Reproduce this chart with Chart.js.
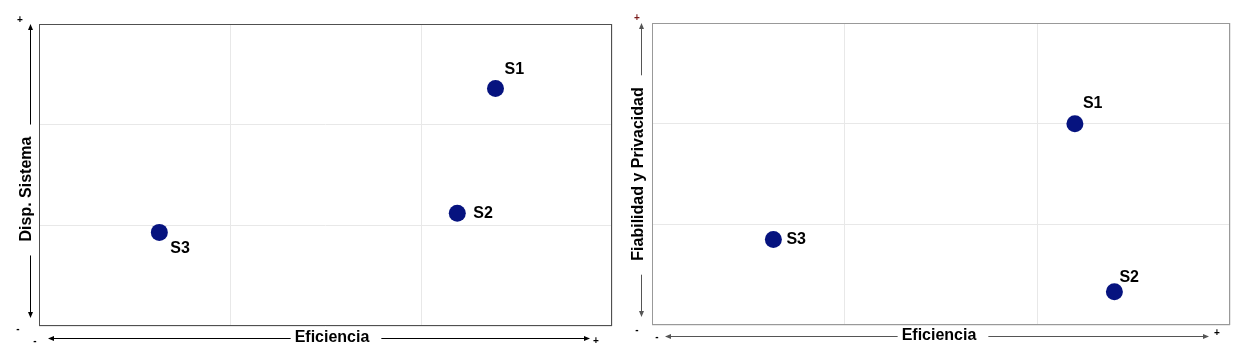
<!DOCTYPE html>
<html>
<head>
<meta charset="utf-8">
<script src="https://cdn.jsdelivr.net/npm/chart.js@4.4.1/dist/chart.umd.min.js"></script>
<style>
  html, body { margin: 0; padding: 0; background: #fff; }
  #wrap { position: relative; width: 1246px; height: 362px; }
  canvas { position: absolute; top: 0; }
</style>
</head>
<body>
<div id="wrap">
  <canvas id="chartLeft" width="623" height="362" style="left:0"></canvas>
  <canvas id="chartRight" width="623" height="362" style="left:623px"></canvas>
</div>
<script>
// series names
const systems = ['S1', 'S2', 'S3'];

// left chart: Eficiencia vs Disp. Sistema (axis 0..3)
const leftEficiencia = [2.39, 2.19, 0.63];
const leftDisponibilidad = [2.36, 1.12, 0.93];

// right chart: Eficiencia vs Fiabilidad y Privacidad
const rightEficiencia = [2.195, 2.40, 0.63];
const rightFiabilidad = [2.0, 0.33, 0.85];

const xTitle = 'Eficiencia';
const leftYTitle = 'Disp. Sistema';
const rightYTitle = 'Fiabilidad y Privacidad';

const pointColor = '#06137f';
const FONT = '"Liberation Sans", Arial, sans-serif';

function toPoints(xs, ys) {
    return xs.map((x, i) => ({ x: x, y: ys[i] }));
}

function arrowHead(ctx, x, y, dir) {
    // dir: 'up', 'down', 'left', 'right'
    ctx.beginPath();
    if (dir === 'up') { ctx.moveTo(x, y); ctx.lineTo(x - 2.5, y + 6); ctx.lineTo(x + 2.5, y + 6); }
    if (dir === 'down') { ctx.moveTo(x, y); ctx.lineTo(x - 2.5, y - 6); ctx.lineTo(x + 2.5, y - 6); }
    if (dir === 'left') { ctx.moveTo(x, y); ctx.lineTo(x + 6, y - 2.5); ctx.lineTo(x + 6, y + 2.5); }
    if (dir === 'right') { ctx.moveTo(x, y); ctx.lineTo(x - 6, y - 2.5); ctx.lineTo(x - 6, y + 2.5); }
    ctx.closePath();
    ctx.fill();
}

function line(ctx, x1, y1, x2, y2) {
    ctx.beginPath();
    ctx.moveTo(x1, y1);
    ctx.lineTo(x2, y2);
    ctx.stroke();
}

// draws frame, axis arrows, axis titles and point labels
const decorPlugin = {
    id: 'decor',
    afterDraw(chart, args, opts) {
        const ctx = chart.ctx;
        const a = chart.chartArea;
        ctx.save();

        // plot frame
        ctx.strokeStyle = opts.frameColor;
        ctx.lineWidth = 1;
        ctx.strokeRect(a.left + 0.5, a.top + 0.5, a.right - a.left - 1, a.bottom - a.top - 1);

        ctx.strokeStyle = opts.arrowColor;
        ctx.fillStyle = opts.arrowColor;
        ctx.font = 'bold 16px ' + FONT;

        // vertical axis arrow + title
        const yx = opts.yArrowX;
        const yTop = a.top;
        const yBot = a.bottom - 8;
        const yMid = opts.yTitleMid;
        const yW = ctx.measureText(opts.yTitle).width;
        line(ctx, yx + 0.5, yTop + 2, yx + 0.5, yMid - yW / 2 - 12);
        line(ctx, yx + 0.5, yMid + yW / 2 + 14, yx + 0.5, yBot - 2);
        ctx.fillStyle = opts.arrowColor;
        arrowHead(ctx, yx + 0.5, yTop, 'up');
        arrowHead(ctx, yx + 0.5, yBot, 'down');
        ctx.fillStyle = '#000';
        ctx.save();
        ctx.translate(opts.yTitleX, yMid);
        ctx.rotate(-Math.PI / 2);
        ctx.textAlign = 'center';
        ctx.textBaseline = 'middle';
        ctx.fillText(opts.yTitle, 0, 0);
        ctx.restore();

        // horizontal axis arrow + title
        const xy = opts.xArrowY;
        const xMid = opts.xTitleMid;
        const xW = ctx.measureText(xTitle).width;
        ctx.fillStyle = opts.arrowColor;
        line(ctx, opts.xArrowLeft + 2, xy + 0.5, xMid - xW / 2 - 4, xy + 0.5);
        line(ctx, xMid + xW / 2 + 12, xy + 0.5, opts.xArrowRight - 2, xy + 0.5);
        arrowHead(ctx, opts.xArrowLeft, xy + 0.5, 'left');
        arrowHead(ctx, opts.xArrowRight, xy + 0.5, 'right');
        ctx.fillStyle = '#000';
        ctx.textAlign = 'center';
        ctx.textBaseline = 'middle';
        ctx.fillText(xTitle, xMid, xy);

        // plus / minus signs
        ctx.font = 'bold 10px ' + FONT;
        ctx.fillStyle = opts.plusColor;
        ctx.fillText('+', opts.yPlus[0], opts.yPlus[1]);
        ctx.fillStyle = '#000';
        ctx.fillText('-', opts.yMinus[0], opts.yMinus[1]);
        ctx.fillText('-', opts.xMinus[0], opts.xMinus[1]);
        ctx.fillText('+', opts.xPlus[0], opts.xPlus[1]);

        // point labels
        ctx.font = 'bold 16px ' + FONT;
        ctx.textAlign = 'left';
        ctx.textBaseline = 'middle';
        const meta = chart.getDatasetMeta(0);
        meta.data.forEach((pt, i) => {
            const off = opts.labelOffsets[i];
            ctx.fillText(systems[i], pt.x + off[0], pt.y + off[1]);
        });
        ctx.restore();
    }
};

function makeChart(id, xs, ys, cfg) {
    return new Chart(document.getElementById(id), {
        type: 'scatter',
        data: {
            datasets: [{
                data: toPoints(xs, ys),
                backgroundColor: pointColor,
                borderWidth: 0,
                pointRadius: 8.5,
                pointHoverRadius: 8.5
            }]
        },
        options: {
            responsive: false,
            animation: false,
            events: [],
            layout: { padding: cfg.padding },
            plugins: {
                legend: { display: false },
                tooltip: { enabled: false },
                decor: cfg.decor
            },
            scales: {
                x: {
                    type: 'linear', min: 0, max: 3,
                    ticks: { display: false, stepSize: 1 },
                    grid: { color: '#e8e8e8', drawTicks: false },
                    border: { display: false },
                    afterFit: s => { s.height = cfg.xHeight; }
                },
                y: {
                    type: 'linear', min: 0, max: 3,
                    ticks: { display: false, stepSize: 1 },
                    grid: { color: '#e8e8e8', drawTicks: false },
                    border: { display: false },
                    afterFit: s => { s.width = cfg.yWidth; }
                }
            }
        },
        plugins: [decorPlugin]
    });
}

makeChart('chartLeft', leftEficiencia, leftDisponibilidad, {
    padding: { top: 24, right: 11, left: 0, bottom: 0 },
    xHeight: 36,
    yWidth: 39,
    decor: {
        frameColor: '#505050',
        arrowColor: '#000',
        plusColor: '#000',
        yTitle: leftYTitle,
        yArrowX: 30,
        yTitleX: 27,
        yTitleMid: 189,
        xArrowY: 338,
        xArrowLeft: 48,
        xArrowRight: 590,
        xTitleMid: 332,
        yPlus: [20, 20],
        yMinus: [18, 329],
        xMinus: [35, 341],
        xPlus: [596, 341],
        labelOffsets: [[9, -19], [16, 0], [11, 16]]
    }
});

makeChart('chartRight', rightEficiencia, rightFiabilidad, {
    padding: { top: 23, right: 16, left: 0, bottom: 0 },
    xHeight: 37,
    yWidth: 29,
    decor: {
        frameColor: '#999',
        arrowColor: '#555',
        plusColor: '#7a1a1a',
        yTitle: rightYTitle,
        yArrowX: 18,
        yTitleX: 16,
        yTitleMid: 174,
        xArrowY: 336,
        xArrowLeft: 42,
        xArrowRight: 586,
        xTitleMid: 316,
        yPlus: [14, 18],
        yMinus: [14, 330],
        xMinus: [34, 337],
        xPlus: [594, 333],
        labelOffsets: [[8, -20], [5, -14], [13, 0]]
    }
});
</script>
</body>
</html>
